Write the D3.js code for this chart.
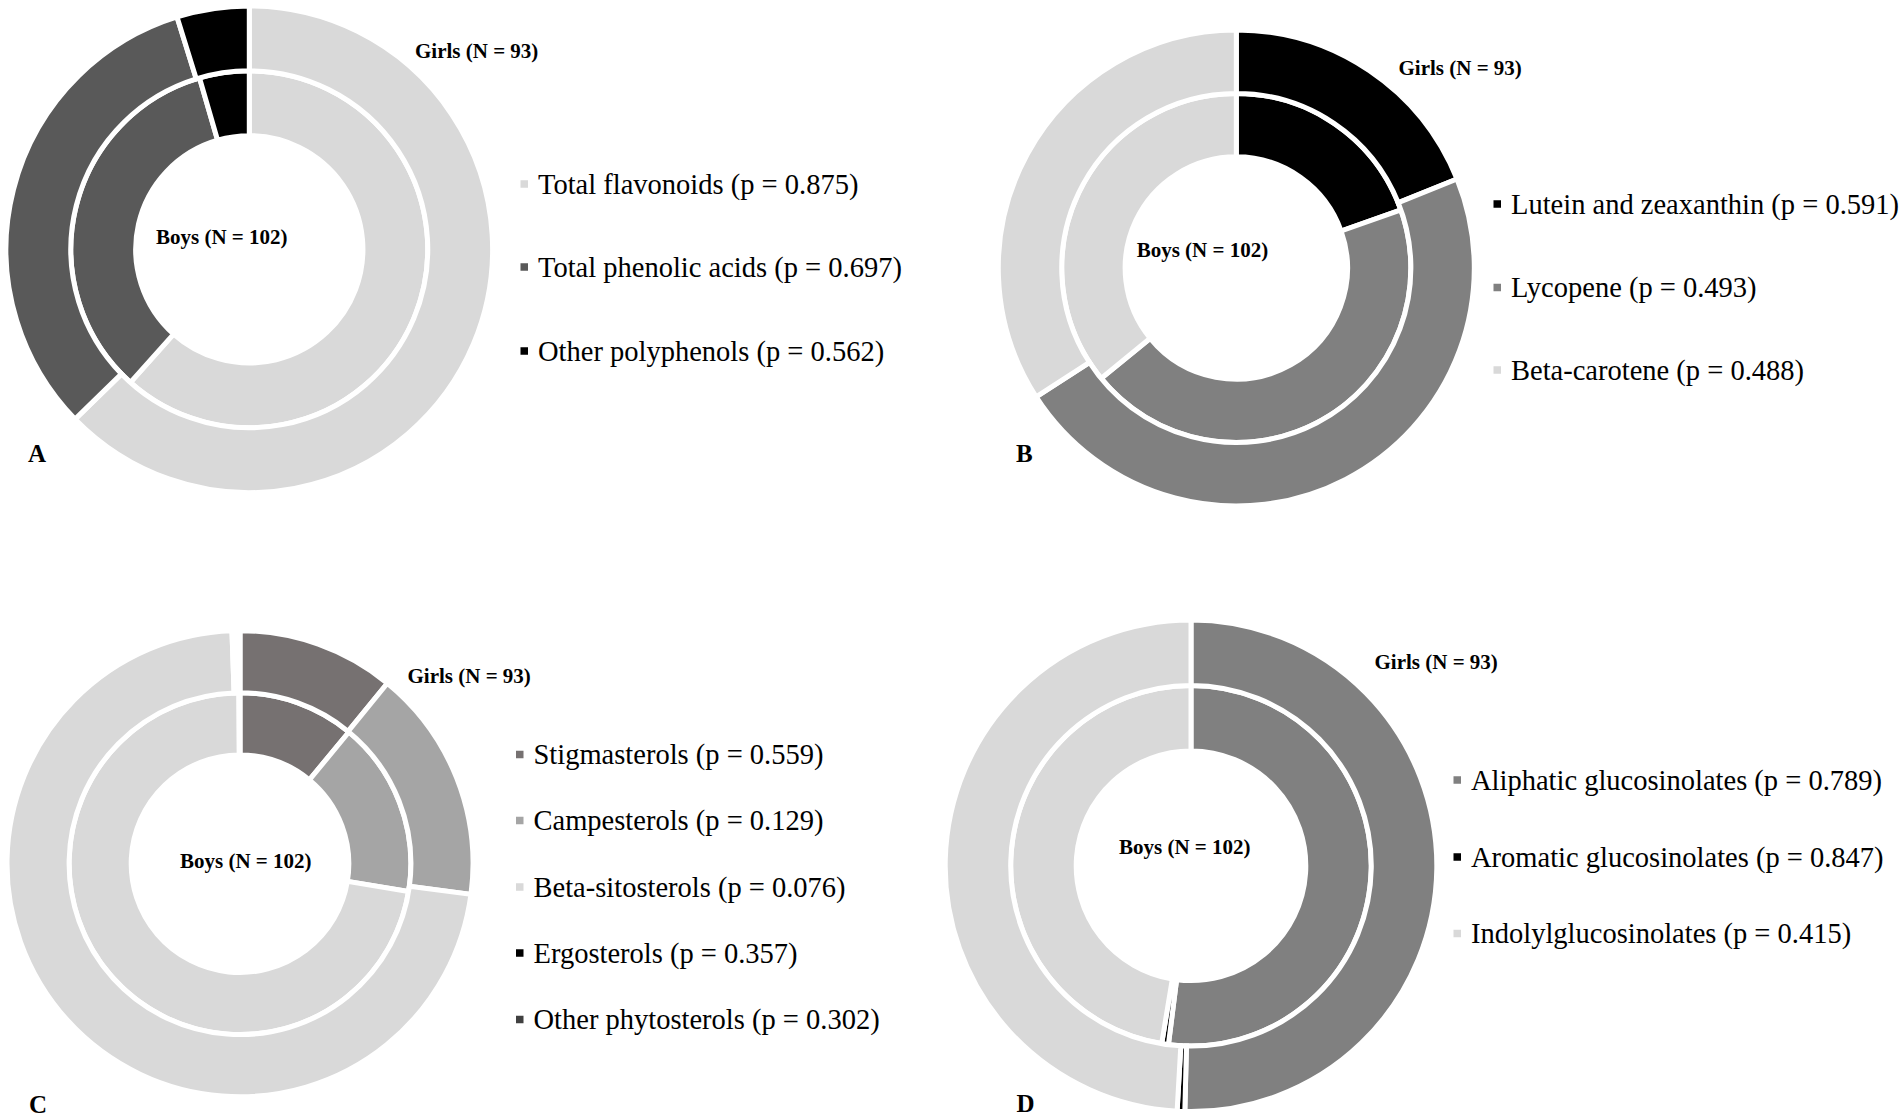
<!DOCTYPE html>
<html>
<head>
    <meta charset="utf-8" />
    <title>Dietary phytochemical intake, boys vs girls</title>
    <style>
        body { margin: 0; background: #fff; }
        text { font-family: "Liberation Serif", "Times New Roman", serif; fill: #000; }
    </style>
</head>
<body>
<script src="https://d3js.org/d3.v7.min.js"></script>
<script>
    // panel A - polyphenols
    var aNames = ["Total flavonoids", "Total phenolic acids", "Other polyphenols"];
    var aP = ["0.875", "0.697", "0.562"];
    var aBoys = [61.6, 33.9, 4.5];
    var aGirls = [62.7, 32.5, 4.8];

    // panel B - carotenoids
    var bNames = ["Lutein and zeaxanthin", "Lycopene", "Beta-carotene"];
    var bP = ["0.591", "0.493", "0.488"];
    var bBoys = [19.6, 44.5, 35.9];
    var bGirls = [18.9, 47.0, 34.1];

    // panel C - phytosterols
    var cNames = ["Stigmasterols", "Campesterols", "Beta-sitosterols", "Ergosterols", "Other phytosterols"];
    var cP = ["0.559", "0.129", "0.076", "0.357", "0.302"];
    var cBoys = [11.0, 16.6, 72.3, 0.05, 0.05];
    var cGirls = [10.9, 16.2, 72.35, 0.25, 0.3];

    // panel D - glucosinolates
    var dNames = ["Aliphatic glucosinolates", "Aromatic glucosinolates", "Indolylglucosinolates"];
    var dP = ["0.789", "0.847", "0.415"];
    var dBoys = [52.0, 0.6, 47.4];
    var dGirls = [50.4, 0.5, 49.1];

    var width = 1902;
    var height = 1120;

    var panels = [
        {letter: "A", names: aNames, p: aP, boys: aBoys, girls: aGirls,
         colors: ["#d9d9d9", "#595959", "#000000"],
         cx: 249.3, cy: 249.3, r: 243.3,
         legendX: 538, legendY: [184, 267, 351],
         girlsPos: [415, 51], boysPos: [156, 237.3], letterPos: [28, 453]},
        {letter: "B", names: bNames, p: bP, boys: bBoys, girls: bGirls,
         colors: ["#000000", "#808080", "#d9d9d9"],
         cx: 1236.3, cy: 268, r: 238,
         legendX: 1511, legendY: [204, 287.5, 370],
         girlsPos: [1398.5, 68], boysPos: [1136.7, 250], letterPos: [1016, 453]},
        {letter: "C", names: cNames, p: cP, boys: cBoys, girls: cGirls,
         colors: ["#767171", "#a5a5a5", "#d9d9d9", "#000000", "#404040"],
         cx: 240, cy: 863.7, r: 233,
         legendX: 533.5, legendY: [754.5, 820.5, 887, 953, 1019.5],
         girlsPos: [407.5, 675.5], boysPos: [180, 860.7], letterPos: [29, 1104.5]},
        {letter: "D", names: dNames, p: dP, boys: dBoys, girls: dGirls,
         colors: ["#808080", "#000000", "#d9d9d9"],
         cx: 1191, cy: 865.8, r: 245.8,
         legendX: 1471, legendY: [780, 857, 933.5],
         girlsPos: [1374.5, 661.5], boysPos: [1119, 846.7], letterPos: [1016.5, 1103]}
    ];

    var svg = d3.select("body").append("svg")
                .attr("width", width)
                .attr("height", height);

    svg.append("rect")
       .attr("width", width)
       .attr("height", height)
       .attr("fill", "#fff");

    var pie = d3.pie().sort(null);

    var legendSize = 28.5;
    var labelSize = 21;

    panels.forEach(function(p){
        var hole = p.r * 0.467;
        var mid = hole + (p.r - hole) / 2;

        var g = svg.append("g")
                   .attr("transform", "translate(" + p.cx + "," + p.cy + ")");

        var rings = [
            {values: p.boys, inner: hole, outer: mid},
            {values: p.girls, inner: mid, outer: p.r}
        ];

        rings.forEach(function(ring){
            var arc = d3.arc()
                        .innerRadius(ring.inner)
                        .outerRadius(ring.outer);

            g.append("g").selectAll("path")
             .data(pie(ring.values))
             .enter().append("path")
             .attr("d", arc)
             .attr("fill", (d, i) => p.colors[i])
             .attr("stroke", "#fff")
             .attr("stroke-width", 5)
             .attr("stroke-linejoin", "miter");
        });

        // legend
        var legend = svg.append("g");
        var rows = legend.selectAll("g")
                         .data(p.names)
                         .enter().append("g")
                         .attr("transform", (d, i) => "translate(" + p.legendX + "," + p.legendY[i] + ")");

        rows.append("rect")
            .attr("x", -17.5)
            .attr("y", -3.75)
            .attr("width", 7.5)
            .attr("height", 7.5)
            .attr("fill", (d, i) => p.colors[i]);

        rows.append("text")
            .attr("x", 0)
            .attr("y", legendSize * 0.34)
            .style("font-size", legendSize + "px")
            .text((d, i) => d + " (p = " + p.p[i] + ")");

        // ring labels
        svg.append("text")
           .attr("x", p.girlsPos[0])
           .attr("y", p.girlsPos[1] + labelSize * 0.34)
           .style("font-size", labelSize + "px")
           .style("font-weight", "bold")
           .text("Girls (N = 93)");

        svg.append("text")
           .attr("x", p.boysPos[0])
           .attr("y", p.boysPos[1] + labelSize * 0.34)
           .style("font-size", labelSize + "px")
           .style("font-weight", "bold")
           .text("Boys (N = 102)");

        svg.append("text")
           .attr("x", p.letterPos[0])
           .attr("y", p.letterPos[1] + 25 * 0.34)
           .style("font-size", "25px")
           .style("font-weight", "bold")
           .text(p.letter);
    });
</script>
</body>
</html>
